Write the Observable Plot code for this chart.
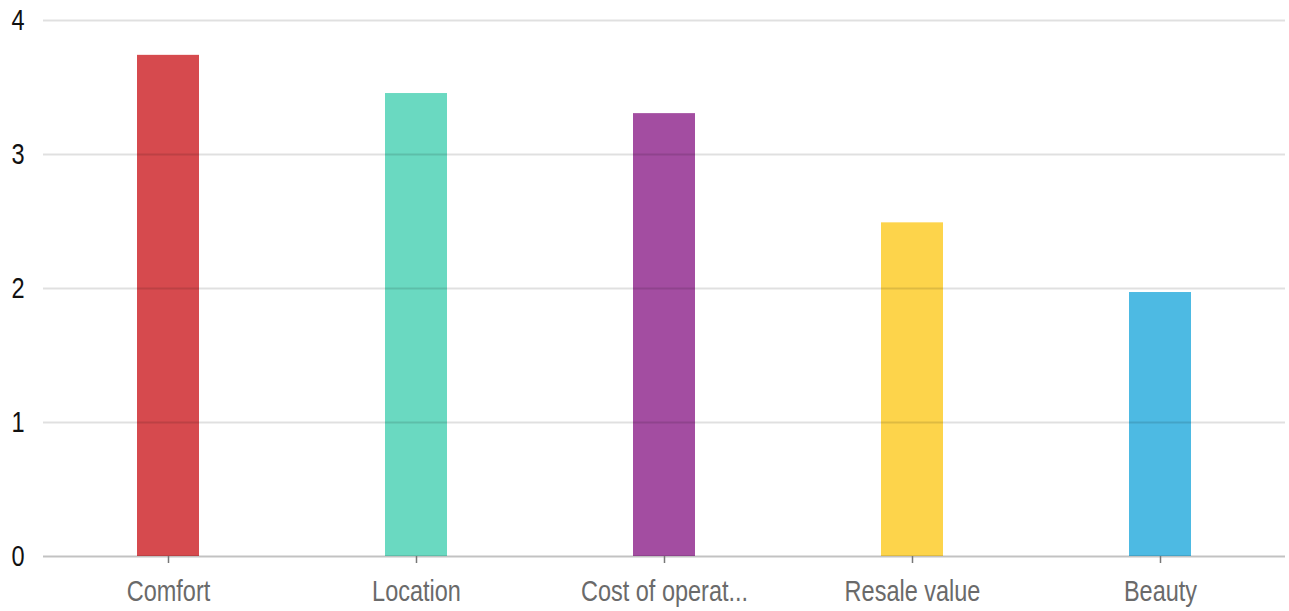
<!DOCTYPE html>
<html>
<head>
<meta charset="utf-8">
<script src="https://cdn.jsdelivr.net/npm/d3@7"></script>
<script src="https://cdn.jsdelivr.net/npm/@observablehq/plot@0.6"></script>
<style>
  html, body { margin: 0; padding: 0; background: #fff; }
  #chart svg { display: block; }
</style>
</head>
<body>
<div id="chart"></div>
<script>
const categories = ["Comfort", "Location", "Cost of operat...", "Resale value", "Beauty"];
const values = [3.74, 3.455, 3.305, 2.49, 1.97];
const colors = ["#d64a4e", "#6ad9c1", "#a34da1", "#fdd44b", "#4dbae3"];
const yTicks = [0, 1, 2, 3, 4];

const data = categories.map((c, i) => ({category: c, value: values[i], color: colors[i]}));

const font = "'Liberation Sans Narrow', 'Arial Narrow', 'Liberation Sans', Arial, sans-serif";

const chart = Plot.plot({
  width: 1289,
  height: 611,
  marginLeft: 43,
  marginRight: 4,
  marginTop: 20,
  marginBottom: 55,
  style: {fontFamily: font, background: "#fff"},
  x: {domain: categories, paddingInner: 0.75, paddingOuter: 0.375, align: 0.5, label: null},
  y: {domain: [0, 4], label: null},
  marks: [
    Plot.barY(data, {x: "category", y: "value", fill: "color"}),
    Plot.ruleY(yTicks.filter(d => d > 0), {stroke: "#000", strokeWidth: 2, strokeOpacity: 0.12}),
    Plot.ruleY([0], {stroke: "#000", strokeWidth: 2, strokeOpacity: 0.24}),
    Plot.axisY({ticks: yTicks, tickSize: 0, tickPadding: 19, fontSize: 29, fill: "#111", tickFormat: d3.format("d")}),
    Plot.axisX({tickSize: 7, tickPadding: 17, fontSize: 29, fill: "#6a6a6a", stroke: "#777", strokeWidth: 1.5})
  ]
});

document.getElementById("chart").appendChild(chart);

// emulate a narrow typeface by condensing the rendered axis text horizontally
chart.querySelectorAll("text").forEach(t => {
  const w = t.getComputedTextLength();
  if (w > 0) {
    t.setAttribute("textLength", (w * 0.81).toFixed(1));
    t.setAttribute("lengthAdjust", "spacingAndGlyphs");
  }
});
</script>
</body>
</html>
